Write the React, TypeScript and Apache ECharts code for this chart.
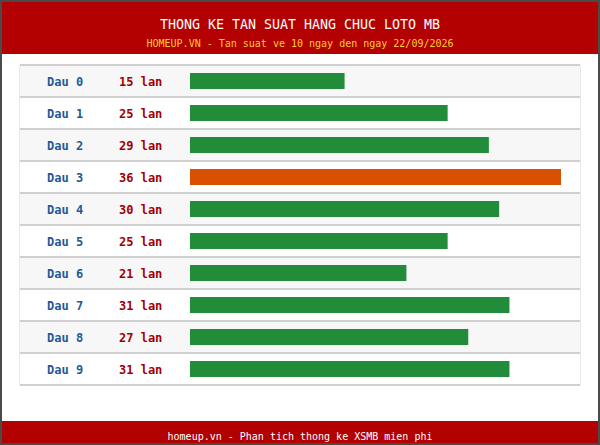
import React, { useEffect, useRef } from "react";
import * as echarts from "echarts";

const categories = ["Dau 0", "Dau 1", "Dau 2", "Dau 3", "Dau 4", "Dau 5", "Dau 6", "Dau 7", "Dau 8", "Dau 9"];
const counts = [15, 25, 29, 36, 30, 25, 21, 31, 27, 31];
const titleText = "THONG KE TAN SUAT HANG CHUC LOTO MB";
const subtitleText = "HOMEUP.VN - Tan suat ve 10 ngay den ngay 22/09/2026";
const footerText = "homeup.vn - Phan tich thong ke XSMB mien phi";

const FONT = "'DejaVu Sans Mono', 'Liberation Mono', monospace";

export default function App() {
  const ref = useRef<HTMLDivElement>(null);
  useEffect(() => {
    document.body.style.margin = "0";
    if (!ref.current) return;
    const chart = echarts.init(ref.current, undefined, { renderer: "svg" });
    const maxVal = Math.max(...counts);
    chart.setOption({
      animation: false,
      backgroundColor: "#ffffff",
      graphic: [
        { type: "rect", shape: { x: 0, y: 0, width: 600, height: 54 }, style: { fill: "#b30000" }, z: 0 },
        { type: "rect", shape: { x: 0, y: 421, width: 600, height: 24 }, style: { fill: "#b30000" }, z: 0 },
        {
          type: "text", x: 300, y: 24, z: 5,
          style: { text: titleText, fill: "#ffffff", font: `13.3px ${FONT}`, align: "center", verticalAlign: "middle" },
        },
        {
          type: "text", x: 300, y: 43, z: 5,
          style: { text: subtitleText, fill: "#ffcc33", font: `10px ${FONT}`, align: "center", verticalAlign: "middle" },
        },
        {
          type: "text", x: 300, y: 436, z: 5,
          style: { text: footerText, fill: "#ffffff", font: `10px ${FONT}`, align: "center", verticalAlign: "middle" },
        },
        {
          type: "rect", shape: { x: 1, y: 1, width: 598, height: 443 }, z: 10,
          style: { fill: "none", stroke: "#4a4a4a", lineWidth: 2 },
        },
      ],
      grid: [
        { left: 20, right: 20, top: 65, height: 320, show: true, borderColor: "#d0d0d0", borderWidth: 1, backgroundColor: "transparent" },
        { left: 190, right: 39, top: 65, height: 320 },
      ],
      xAxis: [
        { gridIndex: 0, type: "value", show: false, min: 0, max: 1 },
        { gridIndex: 1, type: "value", show: false, min: 0, max: maxVal },
      ],
      yAxis: [
        {
          gridIndex: 0,
          type: "category",
          data: categories,
          inverse: true,
          axisLine: { show: false },
          axisTick: { show: false },
          splitArea: { show: true, areaStyle: { color: ["#f7f7f7", "#ffffff"] } },
          splitLine: { show: true, lineStyle: { color: "#d0d0d0", width: 2 } },
          axisLabel: {
            inside: true,
            margin: 27,
            formatter: (v: string, i: number) => `{a|${v}}{b|${counts[i]} lan}`,
            rich: {
              a: { color: "#1f5a96", fontFamily: FONT, fontSize: 12, fontWeight: "bold", width: 72, padding: [2, 0, 0, 0] },
              b: { color: "#a30000", fontFamily: FONT, fontSize: 12, fontWeight: "bold", padding: [2, 0, 0, 0] },
            },
          },
        },
        {
          gridIndex: 1,
          type: "category",
          data: categories,
          inverse: true,
          show: false,
        },
      ],
      series: [
        {
          type: "bar",
          xAxisIndex: 1,
          yAxisIndex: 1,
          barWidth: 16,
          data: counts.map((v) => ({
            value: v,
            itemStyle: { color: v === maxVal ? "#d95000" : "#218c3a" },
          })),
        },
      ],
    });
    return () => chart.dispose();
  }, []);
  return <div ref={ref} style={{ width: 600, height: 445 }} />;
}
